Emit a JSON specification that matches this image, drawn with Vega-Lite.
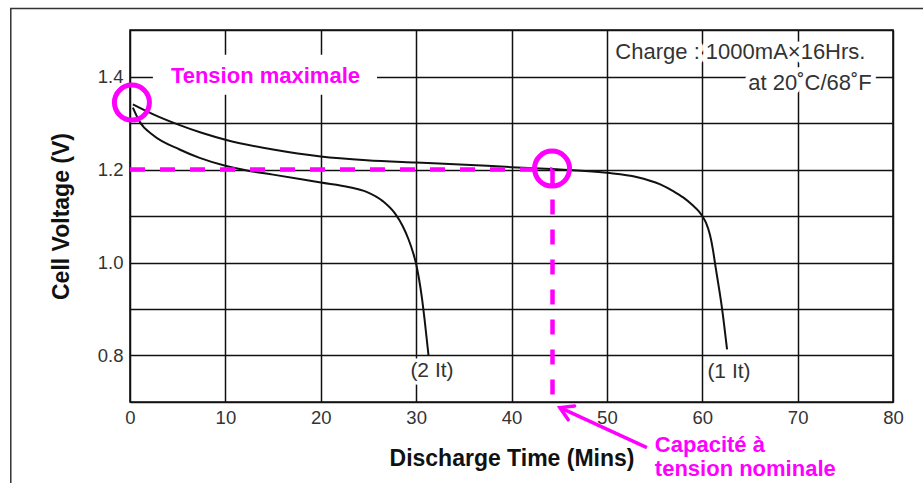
{
  "$schema": "https://vega.github.io/schema/vega-lite/v6.json",
  "width": 763,
  "height": 372,
  "autosize": {"type": "none"},
  "padding": {"left": 130, "top": 30, "right": 30, "bottom": 81},
  "background": "white",
  "config": {
    "font": "Liberation Sans",
    "view": {"stroke": "#111", "strokeWidth": 1.6}
  },
  "encoding": {
    "x": {
      "field": "t", "type": "quantitative",
      "scale": {"domain": [0, 80], "nice": false, "zero": false},
      "axis": {
        "title": "Discharge Time (Mins)",
        "values": [0, 10, 20, 30, 40, 50, 60, 70, 80],
        "grid": true, "gridColor": "#111", "gridWidth": 1.5, "gridOpacity": 1,
        "domain": false, "ticks": false,
        "labelFontSize": 18.5, "labelColor": "#333", "labelPadding": 6,
        "labelFlush": false, "labelOverlap": false,
        "titleFontSize": 23, "titleFontWeight": "bold", "titleColor": "#111", "titlePadding": 21
      }
    },
    "y": {
      "field": "v", "type": "quantitative",
      "scale": {"domain": [0.7, 1.5], "nice": false, "zero": false},
      "axis": {
        "title": "Cell Voltage (V)",
        "values": [0.7, 0.8, 0.9, 1.0, 1.1, 1.2, 1.3, 1.4, 1.5],
        "labelExpr": "round(datum.value * 10) % 2 == 0 ? format(datum.value, '.1f') : ''",
        "grid": true, "gridColor": "#111", "gridWidth": 1.5, "gridOpacity": 1,
        "domain": false, "ticks": false,
        "labelFontSize": 18.5, "labelColor": "#333", "labelPadding": 7,
        "labelFlush": false, "labelOverlap": false,
        "titleFontSize": 23, "titleFontWeight": "bold", "titleColor": "#111", "titlePadding": 24
      }
    }
  },
  "layer": [
    {
      "data": {"values": [{"t": -12.5, "t2": 97, "v": 1.546, "v2": 0.3}]},
      "mark": {"type": "rect", "fill": "transparent", "stroke": "#333", "strokeWidth": 1.5, "clip": false},
      "encoding": {"x2": {"field": "t2"}, "y2": {"field": "v2"}}
    },
    {
      "data": {"values": [{"t": 2.4, "t2": 25.9, "v": 1.447, "v2": 1.361}]},
      "mark": {"type": "rect", "fill": "white", "stroke": null, "clip": false},
      "encoding": {"x2": {"field": "t2"}, "y2": {"field": "v2"}}
    },
    {
      "data": {"values": [
        {"t": 64.0, "v": 1.4366, "label": "Charge : 1000mA×16Hrs."},
        {"t": 71.3, "v": 1.372, "label": "at 20˚C/68˚F"}
      ]},
      "mark": {"type": "text", "align": "center", "baseline": "alphabetic", "fontSize": 22, "fill": "white", "stroke": "white", "strokeWidth": 10, "strokeJoin": "round", "clip": false},
      "encoding": {"text": {"field": "label"}}
    },
    {
      "data": {"values": [
        {"t": 31.66, "v": 0.766, "label": "(2 It)"},
        {"t": 62.8, "v": 0.764, "label": "(1 It)"}
      ]},
      "mark": {"type": "text", "align": "center", "baseline": "middle", "fontSize": 21, "fill": "white", "stroke": "white", "strokeWidth": 7, "strokeJoin": "round", "clip": false},
      "encoding": {"text": {"field": "label"}}
    },
    {
      "data": {"values": [
        {"series": "1 It", "t": 0.3, "v": 1.340},
        {"series": "1 It", "t": 2.5, "v": 1.318},
        {"series": "1 It", "t": 5.0, "v": 1.297},
        {"series": "1 It", "t": 7.5, "v": 1.279},
        {"series": "1 It", "t": 10.2, "v": 1.263},
        {"series": "1 It", "t": 15.0, "v": 1.243},
        {"series": "1 It", "t": 20.0, "v": 1.228},
        {"series": "1 It", "t": 24.8, "v": 1.220},
        {"series": "1 It", "t": 30.0, "v": 1.215},
        {"series": "1 It", "t": 34.6, "v": 1.211},
        {"series": "1 It", "t": 40.0, "v": 1.205},
        {"series": "1 It", "t": 44.2, "v": 1.201},
        {"series": "1 It", "t": 50.0, "v": 1.193},
        {"series": "1 It", "t": 53.1, "v": 1.184},
        {"series": "1 It", "t": 55.6, "v": 1.168},
        {"series": "1 It", "t": 57.0, "v": 1.153},
        {"series": "1 It", "t": 58.0, "v": 1.140},
        {"series": "1 It", "t": 59.0, "v": 1.123},
        {"series": "1 It", "t": 59.6, "v": 1.111},
        {"series": "1 It", "t": 60.0, "v": 1.100},
        {"series": "1 It", "t": 60.4, "v": 1.085},
        {"series": "1 It", "t": 60.8, "v": 1.060},
        {"series": "1 It", "t": 61.1, "v": 1.030},
        {"series": "1 It", "t": 61.4, "v": 0.990},
        {"series": "1 It", "t": 61.7, "v": 0.952},
        {"series": "1 It", "t": 62.0, "v": 0.912},
        {"series": "1 It", "t": 62.3, "v": 0.865},
        {"series": "1 It", "t": 62.6, "v": 0.813},
        {"series": "2 It", "t": 0.3, "v": 1.333},
        {"series": "2 It", "t": 1.0, "v": 1.303},
        {"series": "2 It", "t": 2.4, "v": 1.274},
        {"series": "2 It", "t": 5.2, "v": 1.243},
        {"series": "2 It", "t": 7.3, "v": 1.225},
        {"series": "2 It", "t": 10.0, "v": 1.208},
        {"series": "2 It", "t": 12.5, "v": 1.197},
        {"series": "2 It", "t": 15.0, "v": 1.189},
        {"series": "2 It", "t": 20.0, "v": 1.172},
        {"series": "2 It", "t": 23.0, "v": 1.162},
        {"series": "2 It", "t": 24.8, "v": 1.152},
        {"series": "2 It", "t": 26.5, "v": 1.132},
        {"series": "2 It", "t": 27.8, "v": 1.105},
        {"series": "2 It", "t": 28.6, "v": 1.078},
        {"series": "2 It", "t": 29.2, "v": 1.050},
        {"series": "2 It", "t": 29.7, "v": 1.020},
        {"series": "2 It", "t": 30.0, "v": 0.997},
        {"series": "2 It", "t": 30.3, "v": 0.965},
        {"series": "2 It", "t": 30.6, "v": 0.925},
        {"series": "2 It", "t": 30.9, "v": 0.875},
        {"series": "2 It", "t": 31.3, "v": 0.800}
      ]},
      "mark": {"type": "line", "color": "#111", "strokeWidth": 2, "interpolate": "monotone"},
      "encoding": {"detail": {"field": "series"}}
    },
    {
      "data": {"values": [
        {"t": 0, "t2": 44.3, "v": 1.2, "v2": 1.2},
        {"t": 44.3, "t2": 44.3, "v": 1.2, "v2": 0.7}
      ]},
      "mark": {"type": "rule", "color": "#ff00ff", "strokeWidth": 4.5, "strokeDash": [15, 15]},
      "encoding": {"x2": {"field": "t2"}, "y2": {"field": "v2"}}
    },
    {
      "data": {"values": [{"t": 0.2, "v": 1.344}, {"t": 44.25, "v": 1.202}]},
      "mark": {"type": "point", "shape": "circle", "filled": false, "stroke": "#ff00ff", "strokeWidth": 5, "size": 1225, "opacity": 1, "clip": false},
      "encoding": {}
    },
    {
      "data": {"values": [{"t": 54.2, "v": 0.602, "t2": 45.2, "v2": 0.687}]},
      "mark": {"type": "rule", "color": "#ff00ff", "strokeWidth": 3.5, "clip": false},
      "encoding": {"x2": {"field": "t2"}, "y2": {"field": "v2"}}
    },
    {
      "data": {"values": [{"t": 45.07, "v": 0.688}]},
      "mark": {"type": "point", "shape": "M 1 -0.6 L 0 0 L 1 0.6", "angle": 24.7, "filled": false, "stroke": "#ff00ff", "strokeWidth": 3.5, "strokeCap": "round", "strokeJoin": "miter", "size": 650, "opacity": 1, "clip": false},
      "encoding": {}
    },
    {
      "data": {"values": [
        {"t": 64.0, "v": 1.4366, "label": "Charge : 1000mA×16Hrs."},
        {"t": 71.3, "v": 1.372, "label": "at 20˚C/68˚F"}
      ]},
      "mark": {"type": "text", "align": "center", "baseline": "alphabetic", "fontSize": 22, "color": "#333", "clip": false},
      "encoding": {"text": {"field": "label"}}
    },
    {
      "data": {"values": [
        {"t": 31.66, "v": 0.766, "label": "(2 It)"},
        {"t": 62.8, "v": 0.764, "label": "(1 It)"}
      ]},
      "mark": {"type": "text", "align": "center", "baseline": "middle", "fontSize": 21, "color": "#333", "clip": false},
      "encoding": {"text": {"field": "label"}}
    },
    {
      "data": {"values": [{"t": 14.2, "v": 1.387, "label": "Tension maximale"}]},
      "mark": {"type": "text", "align": "center", "baseline": "alphabetic", "fontSize": 22, "fontWeight": "bold", "color": "#ff00ff", "clip": false},
      "encoding": {"text": {"field": "label"}}
    },
    {
      "data": {"values": [
        {"t": 55.03, "v": 0.5914, "label": "Capacité à"},
        {"t": 55.03, "v": 0.5398, "label": "tension nominale"}
      ]},
      "mark": {"type": "text", "align": "left", "baseline": "alphabetic", "fontSize": 22, "fontWeight": "bold", "color": "#ff00ff", "clip": false},
      "encoding": {"text": {"field": "label"}}
    }
  ]
}
